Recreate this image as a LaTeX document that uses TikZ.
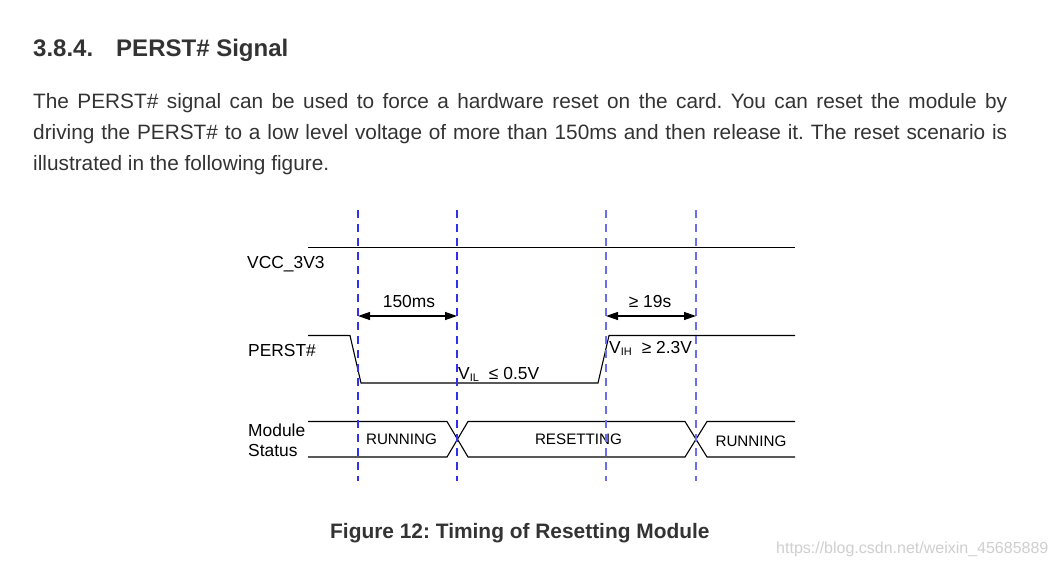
\documentclass[tikz,border=0pt]{standalone}
\usepackage{fontspec}
\setmainfont{Liberation Sans}
\usetikzlibrary{arrows.meta}
\definecolor{txt}{HTML}{333333}
\definecolor{dashA}{HTML}{3030F0}
\definecolor{dashB}{HTML}{6C6CF0}
\definecolor{urlgray}{HTML}{CFCFCF}
\newcommand{\subsc}[1]{{\fontsize{11}{12}\selectfont\raisebox{-2.5pt}{#1}}}
\begin{document}
\frenchspacing
\begin{tikzpicture}[x=1pt,y=-1pt,
  body/.style={anchor=base west, inner sep=0pt, text=txt, font=\fontsize{20.8}{24}\selectfont},
  lbl/.style={anchor=base west, inner sep=0pt, font=\fontsize{17.4}{20}\selectfont},
  stat/.style={anchor=base, inner sep=0pt, font=\fontsize{15.2}{18}\selectfont},
  sig/.style={line width=1.1pt, black},
  guideA/.style={dashA, line width=1.4pt, dash pattern=on 8pt off 6pt},
  guideB/.style={dashB, line width=1.4pt, dash pattern=on 8pt off 6pt},
  dim/.style={line width=1.3pt, {Triangle[length=12pt,width=8pt]}-{Triangle[length=12pt,width=8pt]}}]
\useasboundingbox[fill=white] (0,0) rectangle (1057,566);

% heading and paragraph
\node[anchor=base west, inner sep=0pt, text=txt, font=\fontsize{24}{28}\selectfont\bfseries] (head) at (33,56) {3.8.4.\hspace{23pt}PERST\# Signal};
\node[body] (p1) at (33,108) {\makebox[974pt][s]{The PERST\# signal can be used to force a hardware reset on the card. You can reset the module by}};
\node[body] (p2) at (33,139) {\makebox[974pt][s]{driving the PERST\# to a low level voltage of more than 150ms and then release it. The reset scenario is}};
\node[body] (p3) at (33,170) {illustrated in the following figure.};

% guide lines
\coordinate (g1t) at (358,210); \coordinate (g1b) at (358,481);
\coordinate (g2t) at (457,210); \coordinate (g2b) at (457,481);
\coordinate (g3t) at (606,210); \coordinate (g3b) at (606,481);
\coordinate (g4t) at (696,210); \coordinate (g4b) at (696,481);

% labels
\node[lbl] (vcc) at (247,268) {VCC\_3V3};
\node[lbl] (perst) at (248,356) {PERST\#};
\node[lbl] (mod) at (248,436) {Module};
\node[lbl] (stat) at (248,456) {Status};

% VCC line
\draw[sig] (308,247.5) -- (795,247.5);

% PERST# waveform
\draw[sig] (308,335.5) -- (350,335.5) -- (361,383) -- (598,383) -- (609,335.5) -- (795,335.5);

% module status bus
\draw[sig] (308,421.5) -- (447,421.5) -- (468,457) -- (685,457) -- (707,421.5) -- (795,421.5);
\draw[sig] (308,457) -- (447,457) -- (468,421.5) -- (685,421.5) -- (707,457) -- (795,457);

\node[stat] (run1) at (401.5,444) {RUNNING};
\node[stat] (rst) at (578.5,444) {RESETTING};
\node[stat] (run2) at (751,446) {RUNNING};

% guides drawn over
\draw[guideA] (g1t) -- (g1b);
\draw[guideA] (g2t) -- (g2b);
\draw[guideB] (g3t) -- (g3b);
\draw[guideB] (g4t) -- (g4b);

% dimension arrows
\coordinate (a1) at (358,316); \coordinate (a2) at (457,316);
\coordinate (a3) at (606,316); \coordinate (a4) at (696,316);
\draw[dim] (a1) -- (a2);
\draw[dim] (a3) -- (a4);
\node[lbl, anchor=base] (t150) at (409,307) {150ms};
\node[lbl, anchor=base] (t19) at (650,307) {≥ 19s};

% voltage labels
\node[lbl] (vil) at (458,379) {V\subsc{IL}\hspace{10pt}≤ 0.5V};
\node[lbl] (vih) at (609,353) {V\subsc{IH}\hspace{10pt}≥ 2.3V};

% caption
\node[anchor=base west, inner sep=0pt, text=txt, font=\fontsize{20.9}{24}\selectfont\bfseries] (cap) at (330,538) {Figure 12: Timing of Resetting Module};
\node[anchor=base west, inner sep=0pt, text=urlgray, font=\fontsize{16}{18}\selectfont] (url) at (776,553) {https://blog.csdn.net/weixin\_45685889};
\end{tikzpicture}
\end{document}
